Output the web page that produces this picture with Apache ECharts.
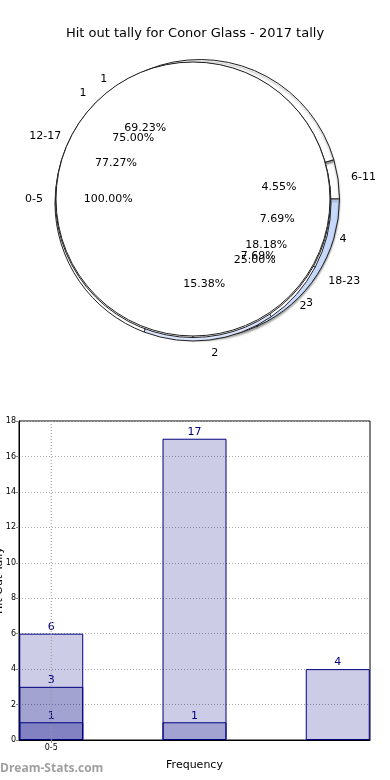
<!DOCTYPE html>
<html><head><meta charset="utf-8">
<script src="https://cdn.jsdelivr.net/npm/echarts@6/dist/echarts.min.js"></script>
<style>html,body{margin:0;padding:0;background:#fff}#c{width:390px;height:780px}</style>
</head><body><div id="c"></div>
<script>
const titleText = 'Hit out tally for Conor Glass - 2017 tally';
// Pie rings (slices run counter-clockwise from east)
const ringANames = ['0-5'];
const ringAValues = [6];
const ringBNames = ['6-11', '12-17', '18-23'];
const ringBValues = [1, 17, 4];
const ringCNames = ['1', '2'];
const ringCValues = [3, 1];
const ringDNames = ['1', '2', '3', '4'];
const ringDValues = [9, 2, 1, 1];
// Bar chart
const barTickLabels = ['0-5'];
const barPositions = [0, 1, 2];
const barSeries1 = [6, 17, 4];
const barSeries2 = [3, 1, null];
const barSeries3 = [1, null, null];
const yMin = 0, yMax = 18, yStep = 2;
const yAxisName = 'Hit Out Tally';
const xAxisName = 'Frequency';

// styles (kept separate from data)
const ringAColors = ['#ffffff'];
const ringBColors = ['#ffffff', '#ffffff', '#c6d9fc'];
const ringCColors = ['#ffffff', '#ffffff'];
const ringDColors = ['#ffffff', '#dae4ff', '#ffffff', '#ffffff'];
const FONT = 'DejaVu Sans';

function ring(names, values, colors, center, r, extra) {
  return Object.assign({
    type: 'pie', center: center, radius: [0, r], startAngle: 0, clockwise: false,
    avoidLabelOverlap: false, silent: true, animation: false,
    labelLayout: { hideOverlap: false },
    data: names.map((n, i) => ({ name: n, value: values[i], itemStyle: { color: colors[i] } })),
    itemStyle: { borderColor: '#222', borderWidth: 1 },
    label: { show: true, position: 'outside', formatter: '{b}', fontSize: 11, color: '#000', fontFamily: FONT, distanceToLabelLine: 0 },
    labelLine: { show: false, length: 13, length2: 0 },
    emphasis: { disabled: true }
  }, extra || {});
}
function pctRing(names, values, center, r) {
  const total = values.reduce((a, b) => a + b, 0);
  return {
    type: 'pie', center: center, radius: [0, r * 1.2], startAngle: 0, clockwise: false,
    avoidLabelOverlap: false, silent: true, animation: false,
    labelLayout: { hideOverlap: false },
    data: names.map((n, i) => ({ name: n, value: values[i] })),
    itemStyle: { color: 'rgba(0,0,0,0)', borderWidth: 0 },
    label: { show: true, position: 'inside', formatter: p => (p.value / total * 100).toFixed(2) + '%', fontSize: 11, color: '#000', fontFamily: FONT },
    labelLine: { show: false },
    emphasis: { disabled: true }
  };
}
function barData(vals) {
  return barPositions.map((x, i) => [x, vals[i]]).filter(d => d[1] != null);
}
function barSeries(vals, extra) {
  return Object.assign({
    type: 'bar', data: barData(vals), barWidth: 64, barGap: '-100%', animation: false,
    labelLayout: { hideOverlap: false },
    itemStyle: { color: 'rgba(0,0,128,0.2)', borderColor: '#000080', borderWidth: 1 },
    label: { show: true, position: 'top', distance: 1, color: '#000080', fontSize: 11, fontFamily: FONT, formatter: p => p.value[1] },
    emphasis: { disabled: true }
  }, extra || {});
}

const R = 138;
const chart = echarts.init(document.getElementById('c'));
chart.setOption({
  backgroundColor: '#fff',
  title: { text: titleText, left: 'center', top: 22, textStyle: { fontSize: 13, fontWeight: 'normal', fontFamily: FONT, color: '#000' } },
  grid: { left: 19, right: 20, top: 421, bottom: 40, outerBoundsMode: 'none', containLabel: false, show: true, borderColor: '#000', borderWidth: 1, backgroundColor: 'transparent' },
  xAxis: {
    type: 'value', min: -0.225, max: 2.225,
    splitLine: { show: false },
    axisLine: { onZero: false, lineStyle: { color: '#000' } },
    axisTick: { show: true, customValues: [0], length: 3, lineStyle: { color: '#888' } },
    axisLabel: { customValues: [0], formatter: v => (v === 0 ? barTickLabels[0] : ''), fontSize: 8, color: '#000', fontFamily: FONT, margin: 4 },
    name: xAxisName, nameLocation: 'middle', nameGap: 20, nameTextStyle: { fontSize: 11, color: '#000', fontFamily: FONT }
  },
  yAxis: {
    type: 'value', min: yMin, max: yMax, interval: yStep,
    axisLine: { show: true, onZero: false, lineStyle: { color: '#000' } },
    axisTick: { show: true, length: 3, lineStyle: { color: '#888' } },
    axisLabel: { fontSize: 8, color: '#000', fontFamily: FONT, margin: 3 },
    splitLine: { lineStyle: { type: [1, 2], color: '#aaa' } },
    name: yAxisName, nameLocation: 'middle', nameGap: 14, nameRotate: 90, nameMoveOverlap: false,
    nameTextStyle: { fontSize: 11, color: '#000', fontFamily: FONT }
  },
  graphic: [{ type: 'text', left: 0, top: 763, silent: true, style: { text: 'Dream-Stats.com', fill: '#a0a0a0', font: 'bold 12px "Open Sans"' } }],
  series: [
    ring(ringBNames, ringBValues, ringBColors, [200, 199], 139.5, { itemStyle: { borderColor: '#222', borderWidth: 1, shadowColor: 'rgba(0,0,0,0.35)', shadowBlur: 2, shadowOffsetY: 2 } }),
    ring(ringDNames, ringDValues, ringDColors, [193, 203], 138),
    ring(ringCNames, ringCValues, ringCColors, [193, 200], 137.5),
    ring(ringANames, ringAValues, ringAColors, [193, 199], 137),
    pctRing(ringBNames, ringBValues, [194, 199], R),
    pctRing(ringDNames, ringDValues, [194, 199], R),
    pctRing(ringCNames, ringCValues, [194, 199], R),
    pctRing(ringANames, ringAValues, [194, 199], R),
    {
      type: 'line', data: [[barPositions[0], yMin], [barPositions[0], yMax]], symbol: 'none', silent: true, animation: false, z: 3,
      lineStyle: { type: [1, 2], color: '#999', width: 1 }, emphasis: { disabled: true }
    },
    barSeries(barSeries1),
    barSeries(barSeries2),
    barSeries(barSeries3)
  ]
});
</script></body></html>
